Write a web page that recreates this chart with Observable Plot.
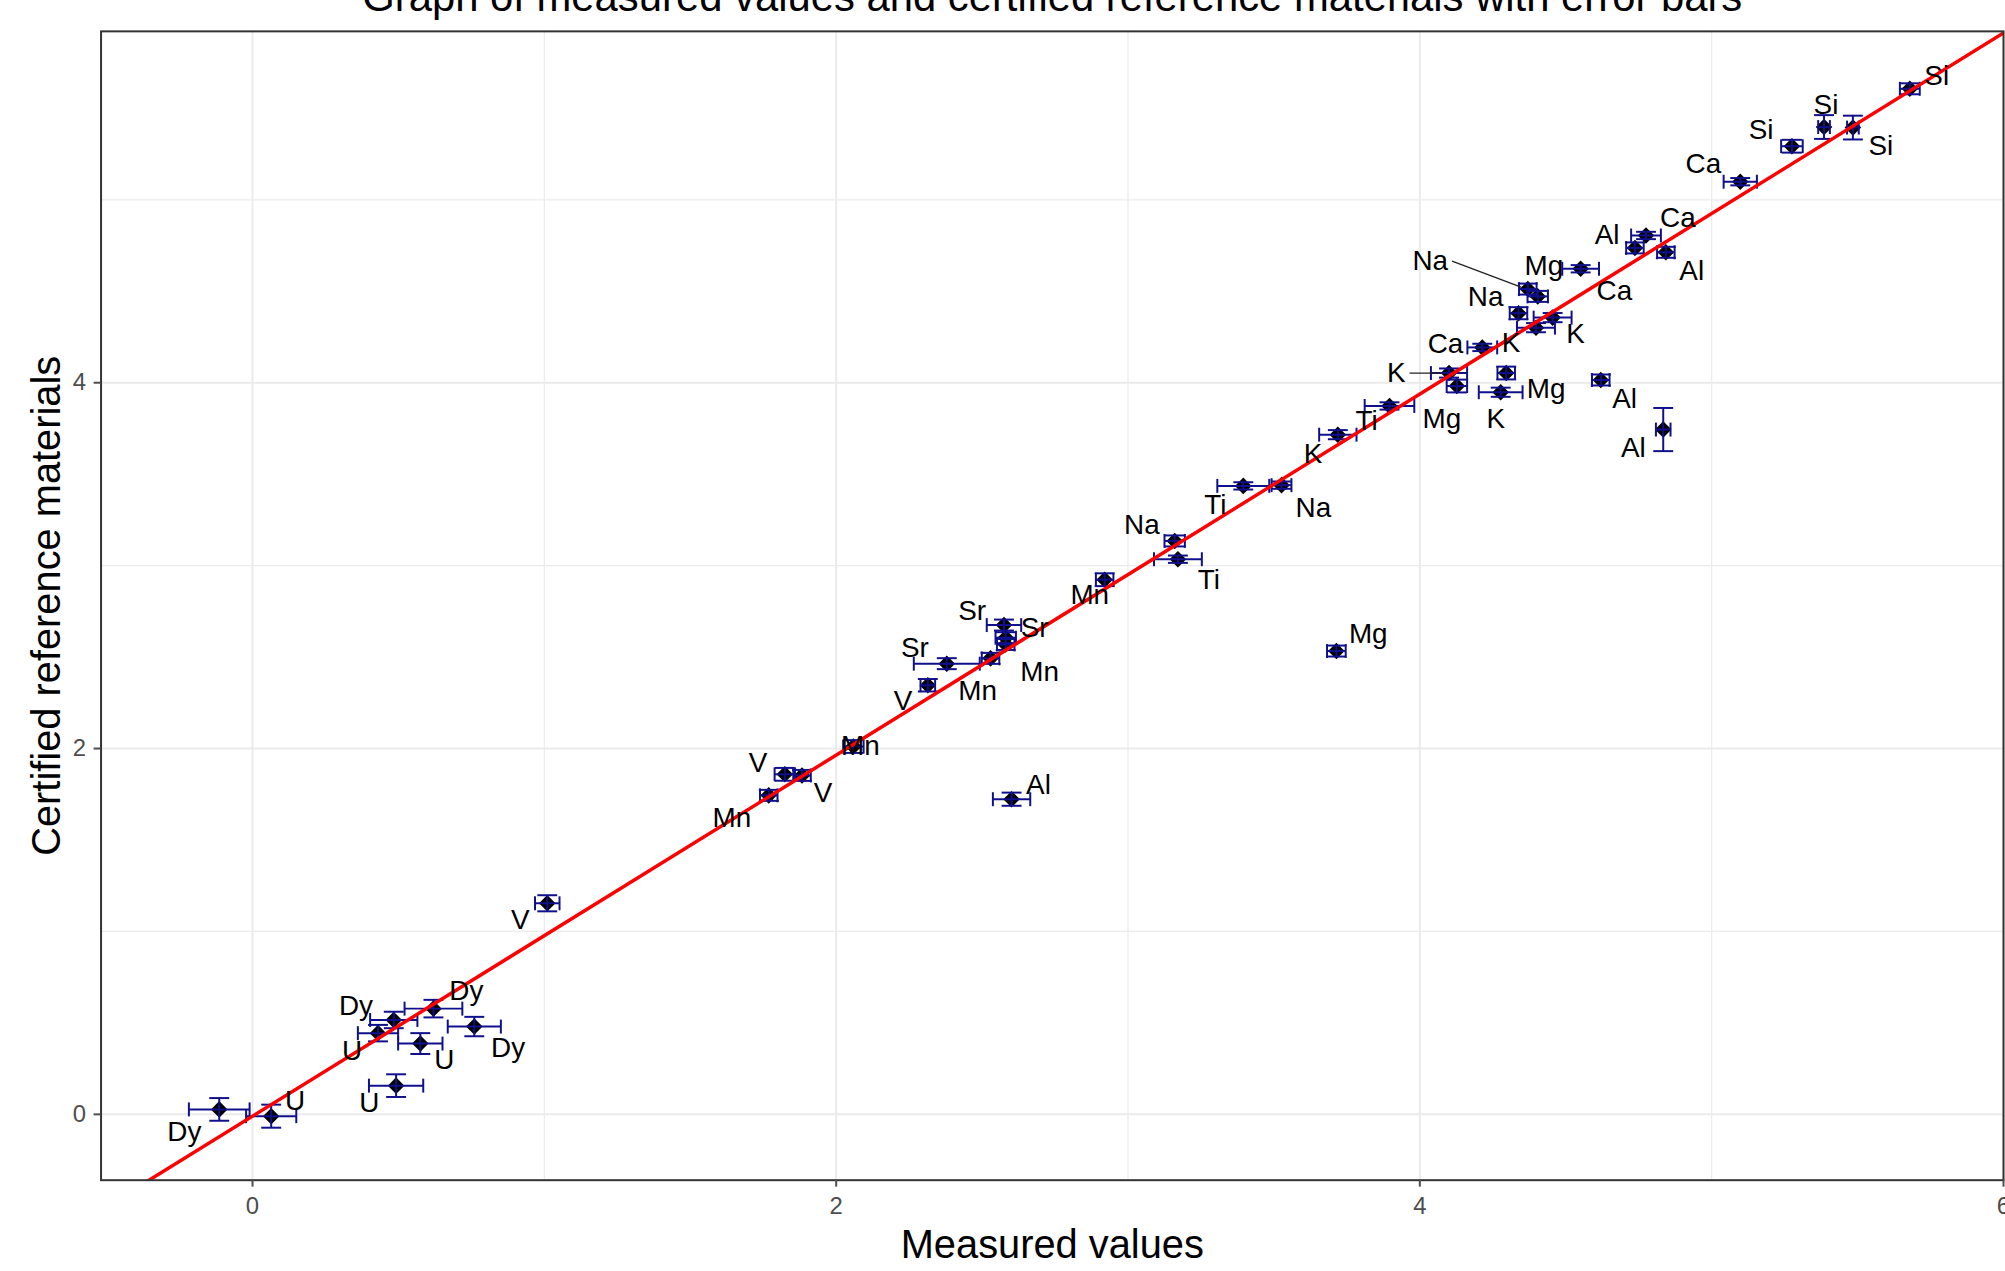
<!DOCTYPE html>
<html><head><meta charset="utf-8">
<script src="https://cdn.jsdelivr.net/npm/d3@7"></script>
<script src="https://cdn.jsdelivr.net/npm/@observablehq/plot@0.6"></script>
<style>
html,body{margin:0;padding:0;background:#fff;overflow:hidden;width:2005px;height:1271px}
#chart{position:relative;width:2005px;height:1271px;overflow:hidden}
</style></head><body><div id="chart"></div>
<script>
// ---- data ----
const elements = ["Dy","U","U","U","Dy","U","Dy","Dy","V","Mn","V","V","Mn","V","Sr","Mn","Sr","Sr","Mn","Al","Mn","Na","Ti","Ti","Na","Mg","K","Ti","K","Mg","Ca","K","Mg","Na","Na","K","Ca","K","Mg","Al","Al","Ca","Al","Al","Ca","Si","Si","Si","Si"];
const measured = [-0.114,0.064,0.492,0.430,0.484,0.575,0.620,0.760,1.010,1.769,1.824,1.883,2.059,2.314,2.379,2.529,2.575,2.581,2.581,2.601,2.920,3.160,3.171,3.395,3.526,3.714,3.719,3.896,4.100,4.127,4.214,4.277,4.296,4.338,4.370,4.398,4.404,4.455,4.551,4.620,4.737,4.775,4.834,4.843,5.098,5.275,5.385,5.484,5.679];
const certified = [0.027,-0.010,0.157,0.444,0.516,0.387,0.578,0.480,1.154,1.744,1.859,1.853,2.011,2.346,2.464,2.493,2.675,2.606,2.569,1.723,2.923,3.135,3.035,3.436,3.440,2.533,3.716,3.873,4.053,3.982,4.193,3.948,4.053,4.380,4.512,4.301,4.472,4.356,4.623,4.015,4.737,4.805,3.744,4.713,5.099,5.293,5.398,5.395,5.607];
const measuredErr = [0.104,0.086,0.093,0.069,0.081,0.076,0.099,0.091,0.042,0.030,0.035,0.030,0.035,0.025,0.113,0.030,0.059,0.035,0.030,0.064,0.030,0.035,0.082,0.089,0.034,0.032,0.064,0.085,0.062,0.035,0.051,0.075,0.030,0.030,0.030,0.065,0.035,0.065,0.063,0.030,0.030,0.051,0.025,0.030,0.057,0.037,0.020,0.020,0.034];
const certifiedErr = [0.062,0.063,0.062,0.045,0.045,0.057,0.048,0.053,0.044,0.030,0.035,0.030,0.035,0.034,0.030,0.030,0.030,0.030,0.030,0.036,0.035,0.030,0.020,0.020,0.020,0.030,0.025,0.020,0.025,0.035,0.020,0.025,0.035,0.033,0.030,0.025,0.030,0.025,0.020,0.030,0.030,0.020,0.118,0.030,0.020,0.035,0.065,0.065,0.030];
// label nudges (pixels, repel-style placement) and which labels carry a leader segment
const labelNudge = [[-35,23],[24,-15],[-27,18],[-26,18],[-38,-14],[24,17],[33,-18],[34,22],[-27,17],[-37,23],[-27,-11],[21,18],[7,0],[-25,16],[-32,-16],[-13,33],[-32,-14],[29,-10],[34,28],[27,-14],[-15,15],[-33,-16],[31,21],[-28,19],[32,23],[32,-17],[-25,19],[-23,15],[-53,0],[-15,33],[-37,-3],[-5,27],[40,16],[-33,-16],[-98,-28],[-25,15],[77,-5],[23,17],[-37,-3],[24,19],[-28,-13],[32,-17],[-30,19],[26,19],[-37,-18],[-31,-16],[2,-22],[28,19],[27,-13]];
const leaderLabels = [28, 34];
const xMajor = [0,2,4,6];
const yMajor = [0,2,4];
const xMinor = [1,3,5];
const yMinor = [1,3,5];
const fitSlope = 0.987, fitIntercept = -0.01;
const title = "Graph of measured values and certified reference materials with error bars";
const xLabel = "Measured values";
const yLabel = "Certified reference materials";

// ---- layout ----
const W = 2014, H = 1271, mL = 101, mR = 2, mT = 31, mB = 86;
const xDomain = [-0.519, 6.0], yDomain = [-0.36, 5.921];
const kx = (W - mL - mR) / (xDomain[1] - xDomain[0]);
const ky = (H - mT - mB) / (yDomain[1] - yDomain[0]);
const FONT = "'Liberation Sans', Arial, sans-serif";
const labelSize = 28;
const capX = 10 / kx, capY = 7 / ky;
const errColor = "#10108c";
const errWidth = 2;

const ctx = document.createElement("canvas").getContext("2d");
ctx.font = `${labelSize}px 'Liberation Sans', Arial, sans-serif`;

const rows = elements.map((el, i) => ({
  el, x: measured[i], y: certified[i], ex: measuredErr[i], ey: certifiedErr[i],
  lx: measured[i] + labelNudge[i][0] / kx,
  ly: certified[i] - labelNudge[i][1] / ky
}));

const leaders = leaderLabels.map(i => {
  const [ox, oy] = labelNudge[i];
  const halfW = ctx.measureText(elements[i]).width / 2;
  const d = Math.hypot(ox, oy);
  const sx = ox - Math.sign(ox) * (halfW + 4), sy = oy;
  const ex = ox / d * 7, ey = oy / d * 7;
  return {
    x1: measured[i] + sx / kx, y1: certified[i] - sy / ky,
    x2: measured[i] + ex / kx, y2: certified[i] - ey / ky
  };
});

const fitLine = xDomain.map(x => ({x, y: fitSlope * x + fitIntercept}));
const fmt = d3.format("d");

const chart = Plot.plot({
  width: W, height: H,
  marginLeft: mL, marginRight: mR, marginTop: mT, marginBottom: mB,
  style: {fontFamily: FONT, background: "#fff", overflow: "visible"},
  x: {domain: xDomain, axis: null},
  y: {domain: yDomain, axis: null},
  marks: [
    Plot.ruleX(xMinor, {stroke: "#ebebeb", strokeWidth: 1.2}),
    Plot.ruleY(yMinor, {stroke: "#ebebeb", strokeWidth: 1.2}),
    Plot.ruleX(xMajor.filter(v => v <= xDomain[1]), {stroke: "#ebebeb", strokeWidth: 2}),
    Plot.ruleY(yMajor, {stroke: "#ebebeb", strokeWidth: 2}),
    Plot.dot(rows, {x: "x", y: "y", symbol: "diamond2", r: 7.5, fill: "#000", stroke: "none"}),
    // vertical error bars
    Plot.link(rows, {x1: "x", x2: "x", y1: d => d.y - d.ey, y2: d => d.y + d.ey, stroke: errColor, strokeWidth: errWidth}),
    Plot.link(rows, {x1: d => d.x - capX, x2: d => d.x + capX, y1: d => d.y - d.ey, y2: d => d.y - d.ey, stroke: errColor, strokeWidth: errWidth}),
    Plot.link(rows, {x1: d => d.x - capX, x2: d => d.x + capX, y1: d => d.y + d.ey, y2: d => d.y + d.ey, stroke: errColor, strokeWidth: errWidth}),
    // horizontal error bars
    Plot.link(rows, {x1: d => d.x - d.ex, x2: d => d.x + d.ex, y1: "y", y2: "y", stroke: errColor, strokeWidth: errWidth}),
    Plot.link(rows, {x1: d => d.x - d.ex, x2: d => d.x - d.ex, y1: d => d.y - capY, y2: d => d.y + capY, stroke: errColor, strokeWidth: errWidth}),
    Plot.link(rows, {x1: d => d.x + d.ex, x2: d => d.x + d.ex, y1: d => d.y - capY, y2: d => d.y + capY, stroke: errColor, strokeWidth: errWidth}),
    // fitted line
    Plot.line(fitLine, {x: "x", y: "y", stroke: "#ff0000", strokeWidth: 3.5, clip: true}),
    // labels
    Plot.link(leaders, {x1: "x1", y1: "y1", x2: "x2", y2: "y2", stroke: "#222", strokeWidth: 1.3}),
    Plot.text(rows, {x: "lx", y: "ly", text: "el", fontSize: labelSize, fill: "#000"}),
    Plot.frame({stroke: "#333", strokeWidth: 2}),
    Plot.axisX(xMajor, {tickSize: 7, tickPadding: 10, fontSize: 24, color: "#4d4d4d", strokeWidth: 2, label: null, tickFormat: fmt}),
    Plot.axisY(yMajor, {tickSize: 7, tickPadding: 8, fontSize: 24, color: "#4d4d4d", strokeWidth: 2, label: null, tickFormat: fmt}),
    Plot.text([xLabel], {text: d => d, frameAnchor: "bottom", dy: 78, lineAnchor: "bottom", textAnchor: "middle", fontSize: 40, fill: "#000"}),
    Plot.text([yLabel], {text: d => d, frameAnchor: "left", dx: -41, rotate: -90, lineAnchor: "bottom", textAnchor: "middle", fontSize: 40, fill: "#000"}),
    Plot.text([title], {text: d => d, frameAnchor: "top", dy: -20.5, lineAnchor: "bottom", textAnchor: "middle", fontSize: 42, fill: "#000"})
  ]
});
document.getElementById("chart").appendChild(chart);
</script>
</body></html>
